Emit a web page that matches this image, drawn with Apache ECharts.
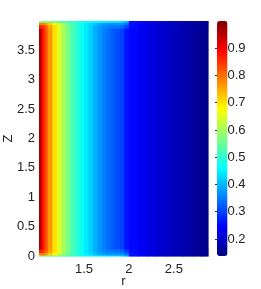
<!DOCTYPE html>
<html><head><meta charset="utf-8">
<script src="https://cdn.jsdelivr.net/npm/echarts@6/dist/echarts.min.js"></script>
<style>html,body{margin:0;padding:0;background:#fff}#c{width:261px;height:289px}</style>
</head><body><div id="c"></div>
<script>
// r cell edges and z cell edges
var rEdges = [1.00,1.02,1.04,1.06,1.08,1.10,1.15,1.20,1.25,1.30,1.35,1.40,1.45,1.50,1.55,1.60,1.65,1.70,1.75,1.80,1.85,1.90,1.95,2.00,2.10,2.20,2.30,2.40,2.50,2.60,2.70,2.80,2.88];
var zEdges = [0, 0.02, 0.06, 0.12, 3.88, 3.94, 3.98, 4.0];
// values per r cell
var interiorRow = [0.97,0.91,0.87,0.84,0.81,0.765,0.70,0.65,0.60,0.56,0.525,0.495,0.47,0.445,0.42,0.395,0.372,0.352,0.337,0.323,0.31,0.298,0.262,0.25,0.235,0.22,0.207,0.195,0.183,0.172,0.161,0.15];
var nearEdgeRow = [0.87,0.86,0.84,0.82,0.79,0.75,0.70,0.65,0.60,0.56,0.525,0.495,0.47,0.445,0.42,0.395,0.377,0.362,0.352,0.345,0.345,0.335,0.30,0.253,0.237,0.221,0.207,0.195,0.183,0.172,0.161,0.15];
var cornerRow = [0.78,0.79,0.79,0.77,0.75,0.72,0.68,0.64,0.59,0.55,0.52,0.495,0.47,0.45,0.43,0.41,0.392,0.38,0.372,0.37,0.37,0.37,0.34,0.26,0.238,0.222,0.208,0.195,0.183,0.172,0.161,0.15];
var boundaryRow = [0.58,0.575,0.57,0.565,0.56,0.555,0.545,0.535,0.525,0.515,0.505,0.495,0.485,0.475,0.47,0.465,0.46,0.455,0.45,0.45,0.445,0.44,0.40,0.25,0.235,0.22,0.207,0.195,0.183,0.172,0.161,0.15];
var rowOrder = [boundaryRow, cornerRow, nearEdgeRow, interiorRow, nearEdgeRow, cornerRow, boundaryRow];
var xTicks = [1.5, 2, 2.5];
var yTicks = [0, 0.5, 1, 1.5, 2, 2.5, 3, 3.5];
var cbTicks = [0.2, 0.3, 0.4, 0.5, 0.6, 0.7, 0.8, 0.9];
var xName = 'r', yName = 'Z';
var vMin = 0.1375, vMax = 1.0;

var cells = [];
for (var j = 0; j < rowOrder.length; j++) {
  for (var i = 0; i < rEdges.length - 1; i++) {
    cells.push([rEdges[i], rEdges[i+1], zEdges[j], zEdges[j+1], rowOrder[j][i]]);
  }
}
var jet = ['#000080','#0000ff','#0080ff','#00ffff','#80ff80','#ffff00','#ff8000','#ff0000','#800000'];
var font = 'Liberation Sans, Arial, sans-serif';
var chart = echarts.init(document.getElementById('c'), null, {renderer:'canvas'});
chart.setOption({
  animation: false,
  grid: [
    {left: 39, top: 21, width: 169, height: 235, containLabel: false, outerBoundsMode: 'none'},
    {left: 217, top: 21, width: 10.5, height: 235, containLabel: false, outerBoundsMode: 'none'}
  ],
  graphic: [
    {type: 'text', x: 123.5, y: 281, style: {text: xName, font: '13px ' + font, fill: '#222', align: 'center', verticalAlign: 'middle'}},
    {type: 'text', x: 8, y: 138.5, rotation: Math.PI / 2, style: {text: yName, font: '13px ' + font, fill: '#222', align: 'center', verticalAlign: 'middle'}}
  ],
  xAxis: [
    {gridIndex: 0, type: 'value', min: 1, max: 2.88, interval: 0.5,
     axisLine: {show: false}, axisTick: {show: false}, splitLine: {show: false},
     axisLabel: {customValues: xTicks, fontFamily: font, fontSize: 13, color: '#222', margin: 7}},
    {gridIndex: 1, type: 'value', show: false, min: 0, max: 1}
  ],
  yAxis: [
    {gridIndex: 0, type: 'value', min: 0, max: 4, interval: 0.5,
     axisLine: {show: false}, axisTick: {show: false}, splitLine: {show: false},
     axisLabel: {customValues: yTicks, fontFamily: font, fontSize: 13, color: '#222', margin: 4}},
    {gridIndex: 1, type: 'value', position: 'right', min: vMin, max: vMax,
     axisLine: {show: false}, splitLine: {show: false},
     axisTick: {show: true, inside: true, length: 2, customValues: cbTicks, lineStyle: {color: '#333', width: 1}},
     axisLabel: {customValues: cbTicks, fontFamily: font, fontSize: 13, color: '#222', margin: 0}}
  ],
  visualMap: {
    type: 'continuous', min: vMin, max: vMax, dimension: 4, seriesIndex: 0,
    show: true, left: 217, top: 21, itemWidth: 10.5, itemHeight: 235, padding: 0,
    text: ['', ''], calculable: false, hoverLink: false, realtime: false,
    inRange: {color: jet}
  },
  series: [{
    type: 'custom', xAxisIndex: 0, yAxisIndex: 0,
    encode: {x: [0, 1], y: [2, 3]},
    data: cells,
    renderItem: function (params, api) {
      var p0 = api.coord([api.value(0), api.value(3)]);
      var p1 = api.coord([api.value(1), api.value(2)]);
      return {type: 'rect', shape: {x: p0[0], y: p0[1], width: p1[0] - p0[0] + 0.6, height: p1[1] - p0[1] + 0.6},
        style: {fill: api.visual('color')}};
    }
  }]
});
</script></body></html>
